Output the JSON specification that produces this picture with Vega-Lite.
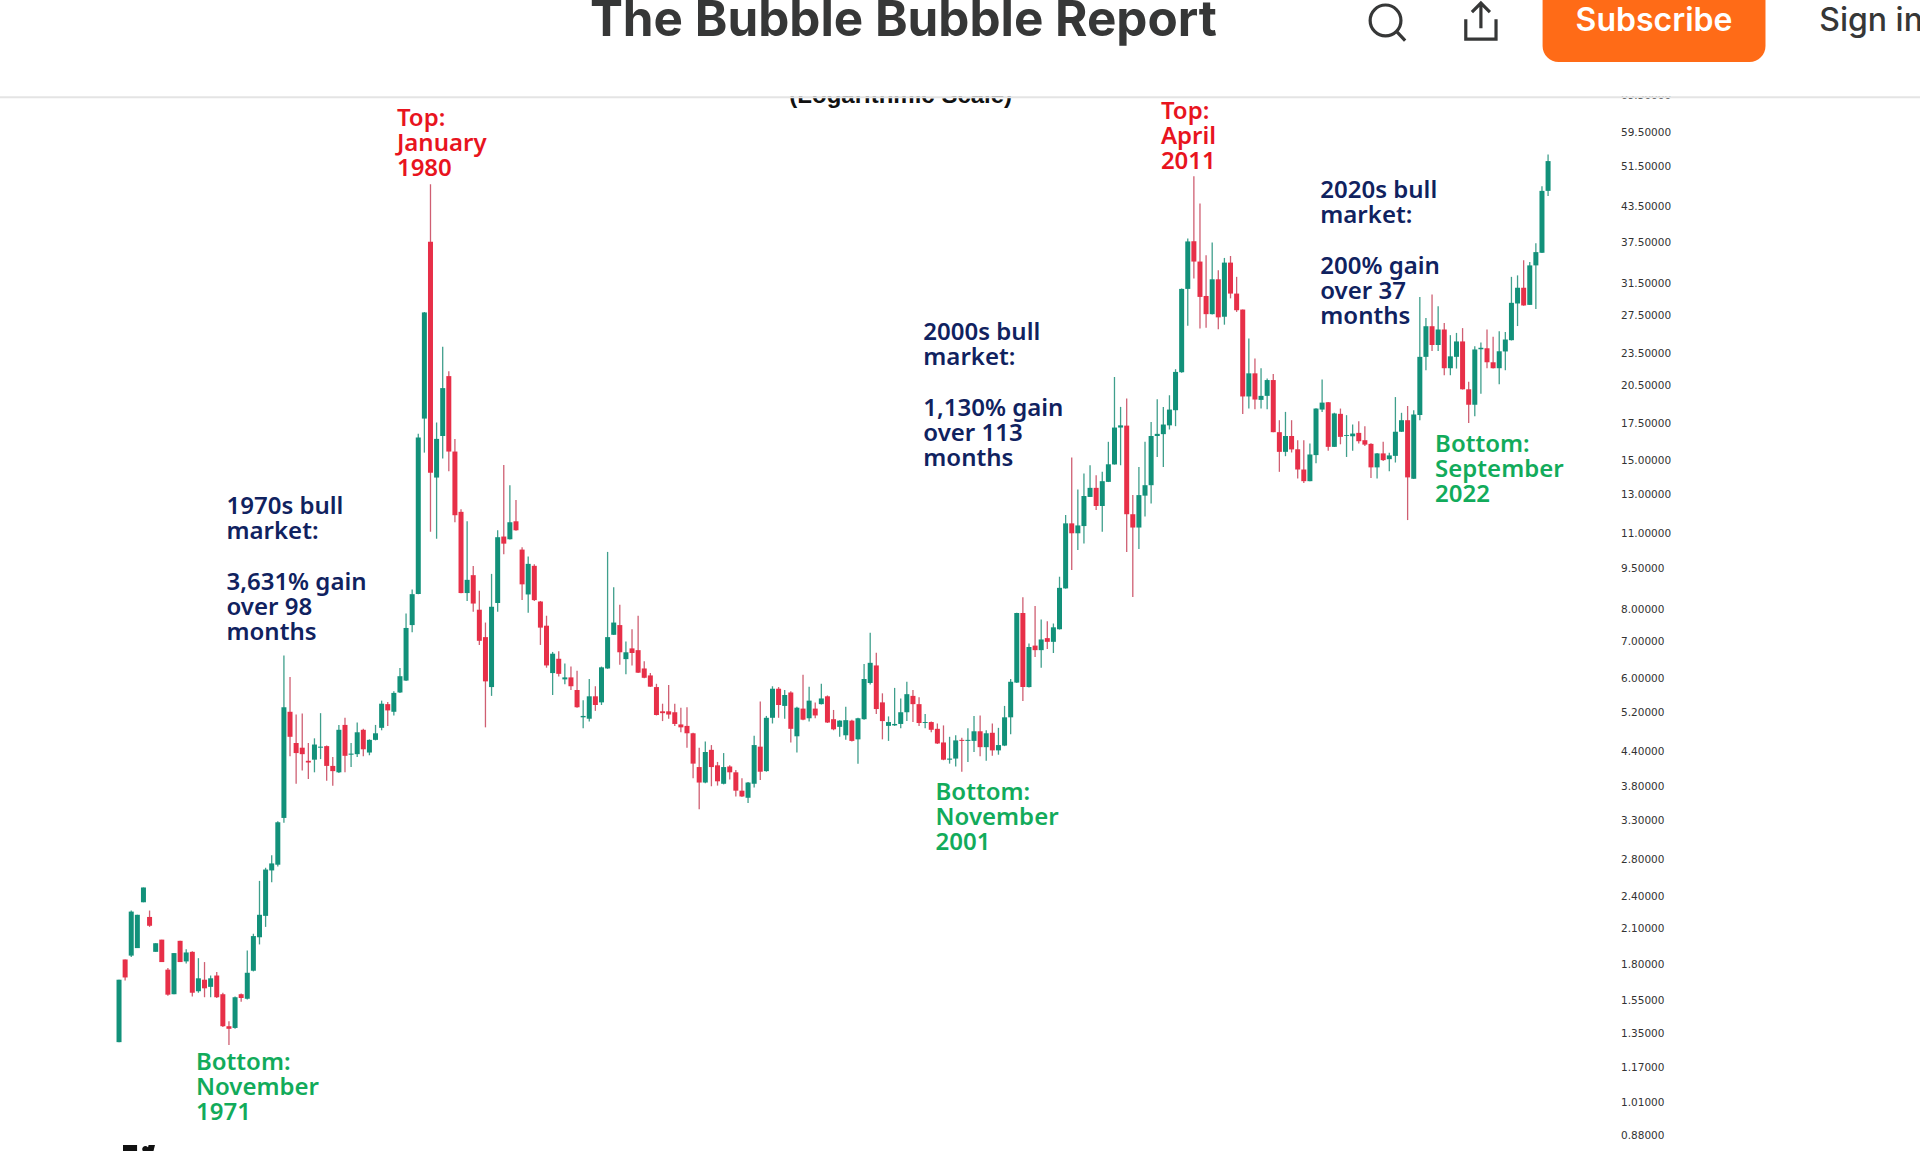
{
  "$schema": "https://vega.github.io/schema/vega-lite/v6.json",
  "width": 1920,
  "height": 1151,
  "padding": 0,
  "autosize": {"type": "none"},
  "background": "white",
  "config": {"view": {"stroke": null}},
  "resolve": {"axis": {"y": "independent"}},
  "datasets": {
    "candles": [
      {"i":0,"o":1.30,"h":1.69,"l":1.30,"c":1.69},
      {"i":1,"o":1.84,"h":1.84,"l":1.685,"c":1.706},
      {"i":2,"o":1.87,"h":2.26,"l":1.86,"c":2.25},
      {"i":3,"o":1.93,"h":2.22,"l":1.93,"c":2.22},
      {"i":4,"o":2.34,"h":2.49,"l":2.34,"c":2.49},
      {"i":5,"o":2.20,"h":2.26,"l":2.11,"c":2.12},
      {"i":6,"o":1.90,"h":1.97,"l":1.90,"c":1.97},
      {"i":7,"o":2.0,"h":2.0,"l":1.82,"c":1.82},
      {"i":8,"o":1.763,"h":1.776,"l":1.58,"c":1.587},
      {"i":9,"o":1.59,"h":1.89,"l":1.59,"c":1.89},
      {"i":10,"o":1.99,"h":1.99,"l":1.82,"c":1.82},
      {"i":11,"o":1.825,"h":1.92,"l":1.81,"c":1.895},
      {"i":12,"o":1.90,"h":1.905,"l":1.575,"c":1.60},
      {"i":13,"o":1.61,"h":1.85,"l":1.60,"c":1.70},
      {"i":14,"o":1.69,"h":1.82,"l":1.57,"c":1.63},
      {"i":15,"o":1.64,"h":1.72,"l":1.57,"c":1.70},
      {"i":16,"o":1.72,"h":1.745,"l":1.565,"c":1.57},
      {"i":17,"o":1.59,"h":1.60,"l":1.385,"c":1.39},
      {"i":18,"o":1.39,"h":1.42,"l":1.285,"c":1.375},
      {"i":19,"o":1.38,"h":1.575,"l":1.375,"c":1.57},
      {"i":20,"o":1.59,"h":1.595,"l":1.54,"c":1.565},
      {"i":21,"o":1.56,"h":1.91,"l":1.555,"c":1.74},
      {"i":22,"o":1.755,"h":2.05,"l":1.75,"c":2.03},
      {"i":23,"o":2.02,"h":2.56,"l":1.96,"c":2.22},
      {"i":24,"o":2.21,"h":2.705,"l":2.11,"c":2.685},
      {"i":25,"o":2.675,"h":2.85,"l":2.545,"c":2.755},
      {"i":26,"o":2.74,"h":3.29,"l":2.72,"c":3.275},
      {"i":27,"o":3.335,"h":6.6,"l":3.27,"c":5.31},
      {"i":28,"o":5.21,"h":6.03,"l":4.32,"c":4.69},
      {"i":29,"o":4.57,"h":5.15,"l":3.85,"c":4.38},
      {"i":30,"o":4.48,"h":5.17,"l":4.07,"c":4.36},
      {"i":31,"o":4.24,"h":4.57,"l":3.93,"c":4.21},
      {"i":32,"o":4.26,"h":4.66,"l":4.04,"c":4.54},
      {"i":33,"o":4.48,"h":5.18,"l":4.27,"c":4.50},
      {"i":34,"o":4.51,"h":4.52,"l":3.90,"c":4.15},
      {"i":35,"o":4.15,"h":4.31,"l":3.82,"c":4.06},
      {"i":36,"o":4.04,"h":4.93,"l":4.03,"c":4.83},
      {"i":37,"o":4.93,"h":5.08,"l":4.04,"c":4.33},
      {"i":38,"o":4.35,"h":4.57,"l":4.13,"c":4.37},
      {"i":39,"o":4.36,"h":4.98,"l":4.31,"c":4.78},
      {"i":40,"o":4.83,"h":4.85,"l":4.32,"c":4.45},
      {"i":41,"o":4.39,"h":4.64,"l":4.34,"c":4.63},
      {"i":42,"o":4.63,"h":4.93,"l":4.62,"c":4.76},
      {"i":43,"o":4.87,"h":5.46,"l":4.82,"c":5.39},
      {"i":44,"o":5.38,"h":5.43,"l":4.91,"c":5.24},
      {"i":45,"o":5.21,"h":5.68,"l":5.13,"c":5.64},
      {"i":46,"o":5.65,"h":6.26,"l":5.64,"c":6.05},
      {"i":47,"o":5.94,"h":7.87,"l":5.93,"c":7.41},
      {"i":48,"o":7.5,"h":8.71,"l":7.28,"c":8.54},
      {"i":49,"o":8.55,"h":16.76,"l":8.54,"c":16.5},
      {"i":50,"o":17.86,"h":27.95,"l":15.48,"c":27.9},
      {"i":51,"o":37.55,"h":47.8,"l":11.1,"c":14.22},
      {"i":52,"o":13.94,"h":17.57,"l":10.78,"c":16.4},
      {"i":53,"o":16.6,"h":24.15,"l":15.1,"c":20.3},
      {"i":54,"o":21.35,"h":21.78,"l":14.31,"c":15.55},
      {"i":55,"o":15.55,"h":16.4,"l":11.55,"c":11.9},
      {"i":56,"o":12.07,"h":12.2,"l":8.57,"c":8.58},
      {"i":57,"o":8.58,"h":11.6,"l":8.3,"c":9.07},
      {"i":58,"o":9.25,"h":9.61,"l":7.93,"c":8.21},
      {"i":59,"o":8.0,"h":8.66,"l":6.9,"c":7.02},
      {"i":60,"o":7.13,"h":7.58,"l":4.88,"c":5.92},
      {"i":61,"o":5.78,"h":9.3,"l":5.57,"c":8.1},
      {"i":62,"o":8.23,"h":11.17,"l":7.93,"c":10.85},
      {"i":63,"o":10.88,"h":14.7,"l":10.1,"c":10.56},
      {"i":64,"o":10.76,"h":13.5,"l":10.75,"c":11.55},
      {"i":65,"o":11.6,"h":12.68,"l":11.15,"c":11.17},
      {"i":66,"o":10.3,"h":10.4,"l":8.33,"c":8.9},
      {"i":67,"o":8.53,"h":10.0,"l":7.9,"c":9.7},
      {"i":68,"o":9.62,"h":9.68,"l":8.3,"c":8.33},
      {"i":69,"o":8.28,"h":8.3,"l":6.9,"c":7.42},
      {"i":70,"o":7.48,"h":7.8,"l":6.27,"c":6.33},
      {"i":71,"o":6.13,"h":6.7,"l":5.59,"c":6.65},
      {"i":72,"o":6.51,"h":6.72,"l":6.04,"c":6.11},
      {"i":73,"o":5.97,"h":6.38,"l":5.85,"c":6.02},
      {"i":74,"o":6.02,"h":6.3,"l":5.71,"c":5.8},
      {"i":75,"o":5.71,"h":6.19,"l":5.3,"c":5.31},
      {"i":76,"o":5.09,"h":5.47,"l":4.86,"c":5.12},
      {"i":77,"o":5.06,"h":5.98,"l":5.0,"c":5.56},
      {"i":78,"o":5.56,"h":5.8,"l":5.23,"c":5.36},
      {"i":79,"o":5.42,"h":6.3,"l":5.36,"c":6.28},
      {"i":80,"o":6.25,"h":10.2,"l":6.24,"c":7.13},
      {"i":81,"o":7.2,"h":8.79,"l":7.19,"c":7.58},
      {"i":82,"o":7.5,"h":8.17,"l":6.35,"c":6.69},
      {"i":83,"o":6.5,"h":7.0,"l":6.1,"c":6.69},
      {"i":84,"o":6.8,"h":7.37,"l":6.33,"c":6.67},
      {"i":85,"o":6.75,"h":7.8,"l":6.13,"c":6.14},
      {"i":86,"o":6.25,"h":6.44,"l":6.0,"c":6.01},
      {"i":87,"o":6.07,"h":6.13,"l":5.78,"c":5.79},
      {"i":88,"o":5.78,"h":5.86,"l":5.13,"c":5.14},
      {"i":89,"o":5.22,"h":5.39,"l":5.01,"c":5.18},
      {"i":90,"o":5.22,"h":5.83,"l":5.06,"c":5.15},
      {"i":91,"o":5.2,"h":5.39,"l":4.91,"c":4.95},
      {"i":92,"o":4.94,"h":5.3,"l":4.78,"c":4.88},
      {"i":93,"o":4.91,"h":5.31,"l":4.48,"c":4.76},
      {"i":94,"o":4.76,"h":4.77,"l":3.94,"c":4.19},
      {"i":95,"o":4.13,"h":4.48,"l":3.46,"c":3.87},
      {"i":96,"o":3.87,"h":4.6,"l":3.86,"c":4.4},
      {"i":97,"o":4.44,"h":4.53,"l":3.81,"c":4.13},
      {"i":98,"o":4.16,"h":4.22,"l":3.82,"c":3.89},
      {"i":99,"o":3.85,"h":4.38,"l":3.84,"c":4.13},
      {"i":100,"o":4.14,"h":4.16,"l":3.92,"c":4.04},
      {"i":101,"o":4.04,"h":4.08,"l":3.65,"c":3.74},
      {"i":102,"o":3.74,"h":3.94,"l":3.64,"c":3.65},
      {"i":103,"o":3.63,"h":3.88,"l":3.55,"c":3.87},
      {"i":104,"o":3.85,"h":4.71,"l":3.79,"c":4.53},
      {"i":105,"o":4.5,"h":5.44,"l":3.91,"c":4.05},
      {"i":106,"o":4.06,"h":5.12,"l":4.05,"c":5.08},
      {"i":107,"o":5.08,"h":5.8,"l":4.96,"c":5.74},
      {"i":108,"o":5.74,"h":5.78,"l":5.08,"c":5.36},
      {"i":109,"o":5.34,"h":5.71,"l":5.06,"c":5.59},
      {"i":110,"o":5.65,"h":5.68,"l":4.58,"c":4.85},
      {"i":111,"o":4.7,"h":5.32,"l":4.39,"c":5.3},
      {"i":112,"o":5.28,"h":6.09,"l":5.03,"c":5.04},
      {"i":113,"o":5.07,"h":5.79,"l":5.0,"c":5.46},
      {"i":114,"o":5.28,"h":5.42,"l":5.07,"c":5.13},
      {"i":115,"o":5.38,"h":5.86,"l":5.37,"c":5.51},
      {"i":116,"o":5.56,"h":5.58,"l":4.97,"c":4.98},
      {"i":117,"o":5.05,"h":5.25,"l":4.82,"c":4.84},
      {"i":118,"o":4.89,"h":5.03,"l":4.69,"c":5.02},
      {"i":119,"o":4.72,"h":5.32,"l":4.63,"c":5.03},
      {"i":120,"o":5.02,"h":5.04,"l":4.6,"c":4.61},
      {"i":121,"o":4.64,"h":5.08,"l":4.19,"c":5.07},
      {"i":122,"o":5.05,"h":6.37,"l":5.04,"c":5.98},
      {"i":123,"o":5.88,"h":7.26,"l":5.84,"c":6.4},
      {"i":124,"o":6.33,"h":6.68,"l":5.16,"c":5.27},
      {"i":125,"o":5.42,"h":5.63,"l":4.64,"c":5.01},
      {"i":126,"o":4.91,"h":5.11,"l":4.61,"c":4.99},
      {"i":127,"o":4.92,"h":5.76,"l":4.91,"c":4.95},
      {"i":128,"o":4.95,"h":5.51,"l":4.86,"c":5.2},
      {"i":129,"o":5.2,"h":5.91,"l":5.01,"c":5.61},
      {"i":130,"o":5.57,"h":5.71,"l":4.99,"c":5.38},
      {"i":131,"o":5.38,"h":5.54,"l":4.91,"c":4.97},
      {"i":132,"o":4.97,"h":5.16,"l":4.86,"c":4.99},
      {"i":133,"o":4.99,"h":5.0,"l":4.78,"c":4.83},
      {"i":134,"o":4.85,"h":4.96,"l":4.55,"c":4.56},
      {"i":135,"o":4.58,"h":4.92,"l":4.25,"c":4.26},
      {"i":136,"o":4.26,"h":4.69,"l":4.19,"c":4.28},
      {"i":137,"o":4.28,"h":4.72,"l":4.14,"c":4.62},
      {"i":138,"o":4.63,"h":4.67,"l":4.05,"c":4.61},
      {"i":139,"o":4.61,"h":4.86,"l":4.22,"c":4.63},
      {"i":140,"o":4.61,"h":5.12,"l":4.4,"c":4.8},
      {"i":141,"o":4.8,"h":5.13,"l":4.32,"c":4.49},
      {"i":142,"o":4.49,"h":4.82,"l":4.24,"c":4.76},
      {"i":143,"o":4.77,"h":4.96,"l":4.33,"c":4.43},
      {"i":144,"o":4.43,"h":4.87,"l":4.35,"c":4.53},
      {"i":145,"o":4.52,"h":5.34,"l":4.51,"c":5.09},
      {"i":146,"o":5.09,"h":5.98,"l":4.74,"c":5.91},
      {"i":147,"o":5.89,"h":7.9,"l":5.88,"c":7.89},
      {"i":148,"o":7.89,"h":8.43,"l":5.45,"c":5.78},
      {"i":149,"o":5.78,"h":6.94,"l":5.77,"c":6.84},
      {"i":150,"o":6.88,"h":8.13,"l":6.56,"c":6.75},
      {"i":151,"o":6.75,"h":7.68,"l":6.27,"c":7.06},
      {"i":152,"o":7.1,"h":7.62,"l":6.78,"c":6.99},
      {"i":153,"o":6.99,"h":7.55,"l":6.67,"c":7.43},
      {"i":154,"o":7.37,"h":9.19,"l":7.36,"c":8.77},
      {"i":155,"o":8.75,"h":11.91,"l":8.74,"c":11.5},
      {"i":156,"o":11.5,"h":15.17,"l":9.45,"c":11.03},
      {"i":157,"o":11.03,"h":13.26,"l":10.28,"c":11.4},
      {"i":158,"o":11.37,"h":14.18,"l":10.57,"c":12.9},
      {"i":159,"o":12.85,"h":14.68,"l":12.84,"c":13.35},
      {"i":160,"o":13.35,"h":14.08,"l":12.16,"c":12.37},
      {"i":161,"o":12.37,"h":14.28,"l":11.1,"c":13.73},
      {"i":162,"o":13.69,"h":16.2,"l":13.68,"c":14.74},
      {"i":163,"o":14.73,"h":21.27,"l":14.72,"c":17.2},
      {"i":164,"o":17.2,"h":18.76,"l":14.68,"c":17.36},
      {"i":165,"o":17.34,"h":19.43,"l":10.2,"c":11.95},
      {"i":166,"o":11.95,"h":12.95,"l":8.44,"c":11.3},
      {"i":167,"o":11.3,"h":14.58,"l":10.32,"c":12.95},
      {"i":168,"o":12.92,"h":16.2,"l":11.83,"c":13.5},
      {"i":169,"o":13.5,"h":17.6,"l":12.5,"c":16.6},
      {"i":170,"o":16.6,"h":19.38,"l":15.2,"c":16.75},
      {"i":171,"o":16.73,"h":18.76,"l":14.58,"c":17.42},
      {"i":172,"o":17.36,"h":19.7,"l":17.06,"c":18.55},
      {"i":173,"o":18.5,"h":21.98,"l":17.3,"c":21.73},
      {"i":174,"o":21.7,"h":30.85,"l":21.65,"c":30.8},
      {"i":175,"o":30.8,"h":38.05,"l":26.37,"c":37.6},
      {"i":176,"o":37.63,"h":49.45,"l":32.17,"c":34.55},
      {"i":177,"o":34.55,"h":44.08,"l":26.08,"c":29.78},
      {"i":178,"o":29.9,"h":35.48,"l":26.15,"c":27.7},
      {"i":179,"o":27.7,"h":37.43,"l":27.65,"c":32.07},
      {"i":180,"o":32.07,"h":33.31,"l":26.0,"c":27.33},
      {"i":181,"o":27.4,"h":35.08,"l":26.5,"c":34.4},
      {"i":182,"o":34.4,"h":35.37,"l":29.6,"c":30.2},
      {"i":183,"o":30.2,"h":32.4,"l":27.96,"c":28.16},
      {"i":184,"o":28.24,"h":28.25,"l":18.2,"c":19.6},
      {"i":185,"o":19.6,"h":25.0,"l":18.63,"c":21.6},
      {"i":186,"o":21.6,"h":23.0,"l":18.58,"c":19.35},
      {"i":187,"o":19.32,"h":22.07,"l":18.63,"c":19.65},
      {"i":188,"o":19.65,"h":21.14,"l":18.58,"c":21.0},
      {"i":189,"o":21.0,"h":21.53,"l":16.86,"c":16.87},
      {"i":190,"o":16.87,"h":17.74,"l":14.28,"c":15.53},
      {"i":191,"o":15.53,"h":18.37,"l":15.25,"c":16.6},
      {"i":192,"o":16.6,"h":17.74,"l":15.49,"c":15.69},
      {"i":193,"o":15.7,"h":16.31,"l":13.89,"c":14.42},
      {"i":194,"o":14.42,"h":16.31,"l":13.63,"c":13.73},
      {"i":195,"o":13.73,"h":16.08,"l":13.72,"c":15.36},
      {"i":196,"o":15.32,"h":18.65,"l":14.8,"c":18.63},
      {"i":197,"o":18.55,"h":21.05,"l":18.37,"c":19.1},
      {"i":198,"o":19.13,"h":19.14,"l":15.6,"c":15.86},
      {"i":199,"o":15.86,"h":18.3,"l":15.85,"c":18.25},
      {"i":200,"o":18.22,"h":18.63,"l":16.03,"c":16.54},
      {"i":201,"o":16.6,"h":18.12,"l":15.2,"c":16.66},
      {"i":202,"o":16.58,"h":17.43,"l":15.6,"c":16.77},
      {"i":203,"o":16.82,"h":17.66,"l":16.08,"c":16.24},
      {"i":204,"o":16.31,"h":17.3,"l":15.92,"c":16.01},
      {"i":205,"o":16.06,"h":16.1,"l":13.91,"c":14.55},
      {"i":206,"o":14.55,"h":15.45,"l":13.89,"c":15.43},
      {"i":207,"o":15.43,"h":16.2,"l":14.94,"c":15.0},
      {"i":208,"o":15.06,"h":15.47,"l":14.32,"c":15.3},
      {"i":209,"o":15.27,"h":19.55,"l":14.85,"c":16.9},
      {"i":210,"o":16.9,"h":18.3,"l":16.88,"c":17.74},
      {"i":211,"o":17.74,"h":18.83,"l":11.66,"c":13.95},
      {"i":212,"o":13.87,"h":18.5,"l":13.86,"c":18.17},
      {"i":213,"o":18.13,"h":29.77,"l":17.74,"c":23.15},
      {"i":214,"o":23.15,"h":27.25,"l":21.89,"c":26.33},
      {"i":215,"o":26.33,"h":30.1,"l":23.73,"c":24.33},
      {"i":216,"o":24.33,"h":28.65,"l":23.73,"c":25.97},
      {"i":217,"o":25.97,"h":26.7,"l":21.43,"c":22.07},
      {"i":218,"o":22.07,"h":25.36,"l":21.43,"c":23.2},
      {"i":219,"o":23.15,"h":25.6,"l":22.04,"c":24.7},
      {"i":220,"o":24.7,"h":26.12,"l":20.18,"c":20.2},
      {"i":221,"o":20.2,"h":20.84,"l":17.54,"c":18.93},
      {"i":222,"o":18.93,"h":24.2,"l":18.04,"c":23.88},
      {"i":223,"o":23.9,"h":24.6,"l":19.83,"c":24.05},
      {"i":224,"o":24.0,"h":25.97,"l":22.07,"c":22.63},
      {"i":225,"o":22.63,"h":25.18,"l":22.05,"c":22.07},
      {"i":226,"o":22.07,"h":25.78,"l":20.64,"c":23.7},
      {"i":227,"o":23.68,"h":25.7,"l":21.89,"c":24.9},
      {"i":228,"o":24.83,"h":32.4,"l":24.8,"c":29.05},
      {"i":229,"o":28.97,"h":32.6,"l":26.35,"c":30.95},
      {"i":230,"o":30.95,"h":34.74,"l":28.7,"c":28.73},
      {"i":231,"o":28.8,"h":34.5,"l":28.78,"c":34.0},
      {"i":232,"o":34.0,"h":37.3,"l":28.3,"c":35.95},
      {"i":233,"o":35.85,"h":47.4,"l":35.8,"c":46.5},
      {"i":234,"o":46.5,"h":54.2,"l":45.5,"c":52.7}
    ],
    "notes": [
      {"label":"Top:\nJanuary\n1980","kind":"top","i":45.5,"price":66.1},
      {"label":"Top:\nApril\n2011","kind":"top","i":170.6,"price":68.2},
      {"label":"1970s bull\nmarket:","kind":"note","i":17.6,"price":12.95},
      {"label":"3,631% gain\nover 98\nmonths","kind":"note","i":17.6,"price":9.41},
      {"label":"2000s bull\nmarket:","kind":"note","i":131.7,"price":26.9},
      {"label":"1,130% gain\nover 113\nmonths","kind":"note","i":131.7,"price":19.56},
      {"label":"2020s bull\nmarket:","kind":"note","i":196.7,"price":48.8},
      {"label":"200% gain\nover 37\nmonths","kind":"note","i":196.7,"price":35.47},
      {"label":"Bottom:\nNovember\n1971","kind":"bottom","i":12.6,"price":1.253},
      {"label":"Bottom:\nNovember\n2001","kind":"bottom","i":133.7,"price":3.89},
      {"label":"Bottom:\nSeptember\n2022","kind":"bottom","i":215.5,"price":16.83}
    ]
  },
  "encoding": {
    "x": {
      "field": "i",
      "type": "quantitative",
      "axis": null,
      "scale": {"type": "linear", "domain": [-19.49, 294.9], "nice": false, "zero": false, "padding": 0}
    }
  },
  "layer": [
    {
      "data": {"name": "candles"},
      "mark": {"type": "rule", "strokeWidth": 1.3},
      "encoding": {
        "y": {
          "field": "l",
          "type": "quantitative",
          "title": null,
          "scale": {"type": "log", "domain": [0.8228, 103.7], "range": [1151, 0], "nice": false},
          "axis": {
            "orient": "right",
            "offset": -299.5,
            "values": [0.88, 1.01, 1.17, 1.35, 1.55, 1.8, 2.1, 2.4, 2.8, 3.3, 3.8, 4.4, 5.2, 6, 7, 8, 9.5, 11, 13, 15, 17.5, 20.5, 23.5, 27.5, 31.5, 37.5, 43.5, 51.5, 59.5, 69.5],
            "format": ".5f",
            "domain": false,
            "ticks": false,
            "grid": false,
            "labelPadding": 0,
            "labelFont": "DejaVu Sans",
            "labelFontSize": 10.5,
            "labelColor": "#333333",
            "labelOverlap": false,
            "labelBound": false,
            "labelFlush": false
          }
        },
        "y2": {"field": "h"},
        "color": {
          "condition": {"test": "datum.c >= datum.o", "value": "#3f9f8c"},
          "value": "#cf5f72"
        }
      }
    },
    {
      "data": {"name": "candles"},
      "mark": {"type": "bar", "size": 5},
      "encoding": {
        "y": {"field": "o", "type": "quantitative", "axis": null},
        "y2": {"field": "c"},
        "color": {
          "condition": {"test": "datum.c >= datum.o", "value": "#12917a"},
          "value": "#e72f48"
        }
      }
    },
    {
      "data": {"name": "notes"},
      "mark": {
        "type": "text",
        "align": "left",
        "baseline": "top",
        "font": "Noto Sans",
        "fontSize": 24,
        "fontWeight": 600,
        "lineHeight": 25,
        "lineBreak": "\n"
      },
      "encoding": {
        "y": {"field": "price", "type": "quantitative", "axis": null},
        "text": {"field": "label", "type": "nominal"},
        "color": {
          "field": "kind",
          "type": "nominal",
          "legend": null,
          "scale": {"domain": ["top", "bottom", "note"], "range": ["#e8141e", "#12ab5b", "#10225f"]}
        }
      }
    },
    {
      "data": {"values": [{"label": "(Logarithmic Scale)", "i": 128, "price": 67.3}]},
      "mark": {"type": "text", "align": "center", "baseline": "alphabetic", "font": "Liberation Sans", "fontSize": 24, "fontWeight": "bold", "color": "#111111"},
      "encoding": {
        "y": {"field": "price", "type": "quantitative", "axis": null},
        "text": {"field": "label", "type": "nominal"}
      }
    },
    {
      "data": {"values": [{"i": -19.49, "i2": 294.9, "price": 120, "price2": 69.2}]},
      "mark": {"type": "rect", "color": "white"},
      "encoding": {
        "x2": {"field": "i2"},
        "y": {"field": "price", "type": "quantitative", "axis": null},
        "y2": {"field": "price2"}
      }
    },
    {
      "data": {"values": [{"i": -19.49, "i2": 294.9, "price": 68.9}]},
      "mark": {"type": "rule", "color": "#e4e4e4", "strokeWidth": 2},
      "encoding": {
        "x2": {"field": "i2"},
        "y": {"field": "price", "type": "quantitative", "axis": null}
      }
    },
    {
      "data": {"values": [{"label": "The Bubble Bubble Report", "i": 77.1, "price": 89.1}]},
      "mark": {"type": "text", "align": "left", "baseline": "alphabetic", "font": "Inter", "fontSize": 49.4, "fontWeight": 700, "color": "#363737"},
      "encoding": {
        "y": {"field": "price", "type": "quantitative", "axis": null},
        "text": {"field": "label", "type": "nominal"}
      }
    },
    {
      "data": {"values": [{"i": 207.5, "price": 94.9}]},
      "mark": {"type": "point", "shape": "M-0.02,-0.46 A0.44,0.44 0 1 1 -0.02,0.42 A0.44,0.44 0 1 1 -0.02,-0.46 M0.3,0.3 L0.54,0.56", "size": 4900, "stroke": "#363737", "strokeWidth": 3.2, "fill": "transparent", "opacity": 1},
      "encoding": {"y": {"field": "price", "type": "quantitative", "axis": null}}
    },
    {
      "data": {"values": [{"i": 223, "price": 94.9}]},
      "mark": {"type": "point", "shape": "M-0.42,-0.05 L-0.42,0.5 L0.42,0.5 L0.42,-0.05 M0,0.2 L0,-0.5 M-0.25,-0.25 L0,-0.5 L0.25,-0.25", "size": 5184, "stroke": "#363737", "strokeWidth": 3.2, "fill": "transparent", "opacity": 1},
      "encoding": {"y": {"field": "price", "type": "quantitative", "axis": null}}
    },
    {
      "data": {"values": [{"i": 233.1, "i2": 269.6, "price": 112.8, "price2": 79.9}]},
      "mark": {"type": "rect", "color": "#ff6b17", "cornerRadius": 16},
      "encoding": {
        "x2": {"field": "i2"},
        "y": {"field": "price", "type": "quantitative", "axis": null},
        "y2": {"field": "price2"}
      }
    },
    {
      "data": {"values": [{"label": "Subscribe", "i": 251.35, "price": 91}]},
      "mark": {"type": "text", "align": "center", "baseline": "alphabetic", "font": "Inter", "fontSize": 32, "fontWeight": 600, "color": "white"},
      "encoding": {
        "y": {"field": "price", "type": "quantitative", "axis": null},
        "text": {"field": "label", "type": "nominal"}
      }
    },
    {
      "data": {"values": [{"label": "Sign in", "i": 278.4, "price": 91}]},
      "mark": {"type": "text", "align": "left", "baseline": "alphabetic", "font": "Inter", "fontSize": 32, "fontWeight": 500, "color": "#363737"},
      "encoding": {
        "y": {"field": "price", "type": "quantitative", "axis": null},
        "text": {"field": "label", "type": "nominal"}
      }
    },
    {
      "data": {"values": [{"i": 3.27, "price": 0.802}]},
      "mark": {"type": "point", "shape": "M-0.5,-0.375 L-0.06,-0.375 L-0.06,0.5 L-0.25,0.5 L-0.25,-0.1 L-0.5,-0.1 Z M0.1,-0.25 A0.1,0.1 0 1 1 0.3,-0.25 A0.1,0.1 0 1 1 0.1,-0.25 Z M0.5,-0.375 L0.28,0.5 L0.08,0.5 L0.3,-0.375 Z", "size": 4096, "filled": true, "fill": "#111111", "stroke": null, "opacity": 1},
      "encoding": {"y": {"field": "price", "type": "quantitative", "axis": null}}
    }
  ]
}
